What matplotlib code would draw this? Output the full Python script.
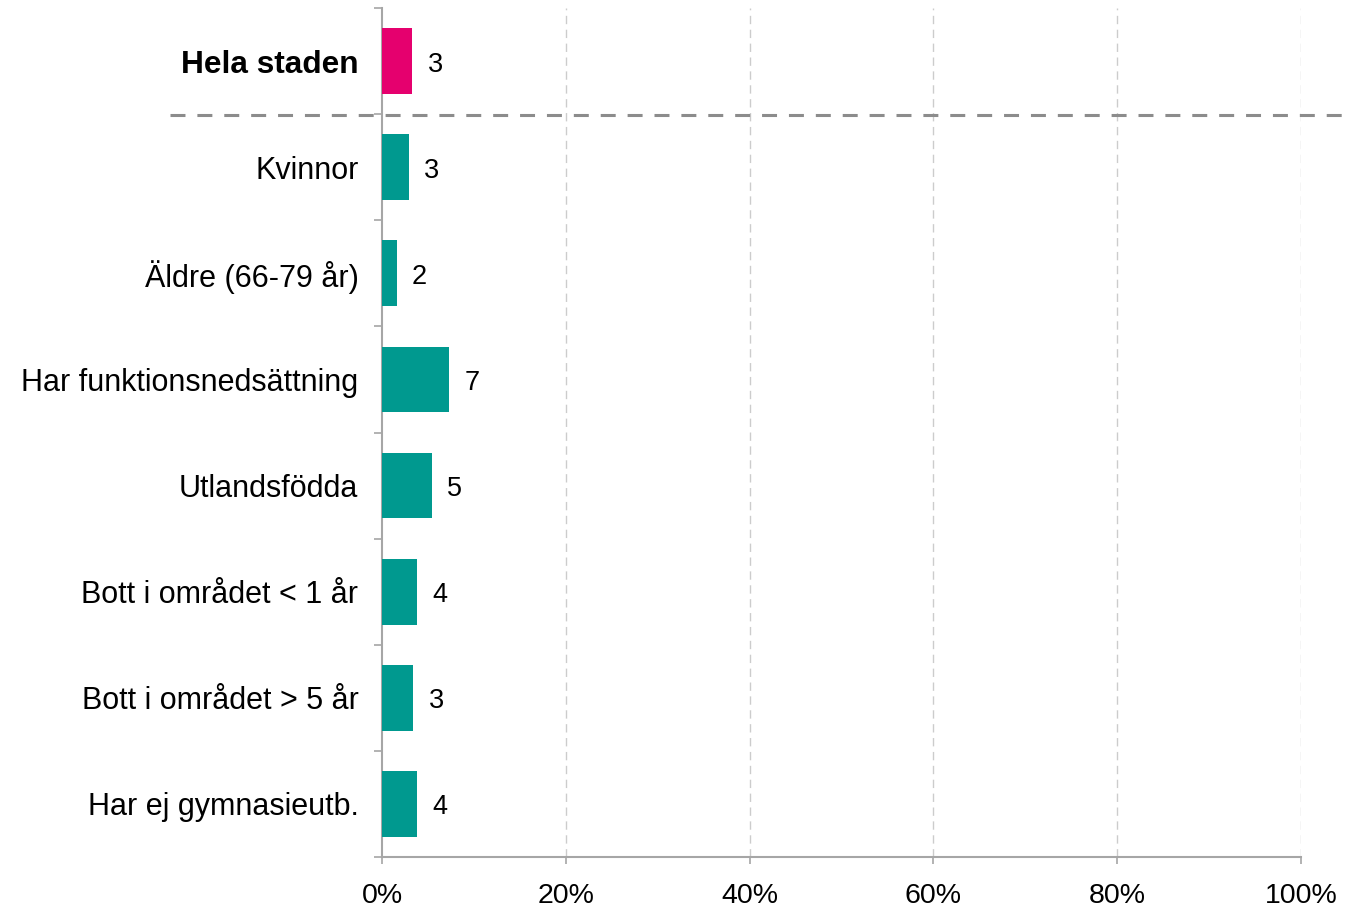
import matplotlib.pyplot as plt
import numpy as np

plt.rcParams['font.family'] = ['Liberation Sans', 'DejaVu Sans']

categories = ['Hela staden', 'Kvinnor', 'Äldre (66-79 år)', 'Har funktionsnedsättning',
              'Utlandsfödda', 'Bott i området < 1 år', 'Bott i området > 5 år',
              'Har ej gymnasieutb.']
values = [3.3, 2.9, 1.6, 7.3, 5.4, 3.8, 3.4, 3.8]
labels = ['3', '3', '2', '7', '5', '4', '3', '4']
xticks = [0, 20, 40, 60, 80, 100]

pink = '#E5006E'
teal = '#00998F'
gray = '#A6A6A6'

fig = plt.figure(figsize=(13.46, 9.10), dpi=100)
ax = fig.add_axes([0.2838, 0.0582, 0.9666 - 0.2838, 0.9912 - 0.0582])

y = np.arange(len(categories))
colors = [pink] + [teal] * (len(categories) - 1)
ax.barh(y, values, height=0.62, color=colors, zorder=3)

for yi, v, lab in zip(y, values, labels):
    ax.annotate(lab, xy=(v, yi), xytext=(11, -2.5), textcoords='offset points',
                va='center', ha='left', fontsize=19.5)

ax.set_xlim(0, 100)
ax.set_ylim(len(categories) - 0.5, -0.5)
ax.set_xticks(xticks)
ax.set_xticklabels([f'{t}%' for t in xticks], fontsize=20.5)
ax.set_yticks(y)
ax.set_yticklabels(categories, fontsize=22)
ax.get_yticklabels()[0].set_fontweight('bold')
ax.get_yticklabels()[0].set_fontsize(22.8)

# ticks at category boundaries on y axis
ax.set_yticks(np.arange(-0.5, len(categories), 1), minor=True)
ax.tick_params(axis='y', which='major', length=0, pad=17)
ax.tick_params(axis='y', which='minor', length=6, color=gray, width=1.2)
ax.tick_params(axis='x', length=5, color=gray, width=1.2, pad=13.5)

for x in xticks[1:]:
    ax.axvline(x, color='#CCCCCC', lw=1, ls=(0, (6, 4)), zorder=1)

for s in ['top', 'right']:
    ax.spines[s].set_visible(False)
for s in ['left', 'bottom']:
    ax.spines[s].set_color(gray)
    ax.spines[s].set_linewidth(1.5)

# separator under "Hela staden"
line = plt.Line2D([170 / 1346, 1.0], [1 - 115 / 910, 1 - 115 / 910], transform=fig.transFigure,
                  color='#8C8C8C', lw=2.2, dashes=(4.9, 3.9), zorder=5)
fig.add_artist(line)

fig.savefig('out.png', dpi=100)
